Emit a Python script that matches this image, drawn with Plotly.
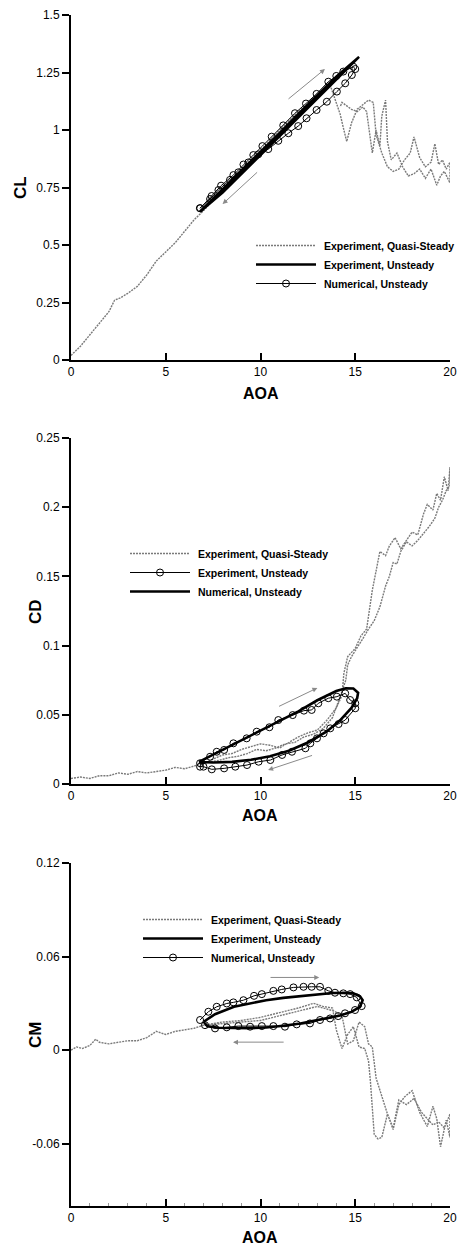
import plotly.graph_objects as go

# ---------------- lift coefficient ----------------
cl_qs_aoa = [0.0, 0.5, 1.0, 1.5, 2.0, 2.3, 2.6, 3.0, 3.5, 4.0, 4.5, 5.0, 5.5, 6.0, 6.5, 7.0,
             8.0, 9.0, 10.0, 11.0, 12.0, 13.0, 13.7, 14.0, 14.2, 14.4, 14.55, 14.8, 15.1,
             15.4, 15.7, 15.95, 16.1, 16.4, 16.7, 17.0, 17.3, 17.6, 17.9, 18.1, 18.4, 18.7,
             19.0, 19.2, 19.4, 19.6, 19.8, 20.0,
             20.0, 19.7, 19.5, 19.3, 19.0, 18.7, 18.4, 18.1, 17.8, 17.5, 17.2, 16.9, 16.7,
             16.6, 16.4, 16.3, 16.1, 15.9, 15.6, 15.4, 15.1, 14.8, 14.5, 14.3, 14.2]
cl_qs = [0.02, 0.06, 0.11, 0.16, 0.21, 0.26, 0.27, 0.29, 0.32, 0.37, 0.43, 0.47, 0.51, 0.56, 0.61, 0.65,
         0.74, 0.83, 0.91, 1.00, 1.08, 1.15, 1.19, 1.12, 1.07, 1.00, 0.95, 1.03, 1.09,
         1.11, 1.13, 1.12, 0.98, 0.90, 0.84, 0.82, 0.83, 0.87, 0.90, 0.97, 0.88, 0.84,
         0.86, 0.94, 0.85, 0.87, 0.83, 0.86,
         0.77, 0.82, 0.80, 0.76, 0.83, 0.79, 0.83, 0.81, 0.80, 0.84, 0.90, 0.87, 0.95,
         1.13, 1.06, 0.93, 1.00, 0.90, 1.08, 1.10, 1.08, 1.09, 1.11, 1.12, 1.10]

cl_exp_aoa = [6.8, 8.0, 9.0, 10.0, 11.0, 12.0, 13.0, 14.0, 15.2,
              14.0, 13.0, 12.0, 11.0, 10.0, 9.0, 8.0, 6.8]
cl_exp = [0.645, 0.742, 0.825, 0.905, 0.986, 1.07, 1.152, 1.232, 1.318,
          1.218, 1.137, 1.055, 0.973, 0.89, 0.81, 0.728, 0.645]

cl_num_aoa = [6.82, 7.42, 7.92, 8.57, 9.10, 9.62, 10.10, 10.59, 11.20, 11.82, 12.40, 12.96,
              13.58, 14.00, 14.37, 14.90, 15.00,
              14.82, 14.47, 14.03, 13.50, 12.96, 12.43, 11.99, 11.47, 10.94, 10.41, 9.88,
              9.36, 8.83, 8.39, 7.78, 7.34, 6.80]
cl_num = [0.660, 0.713, 0.758, 0.804, 0.850, 0.891, 0.930, 0.971, 1.020, 1.073, 1.115, 1.157,
          1.210, 1.235, 1.254, 1.275, 1.265,
          1.239, 1.203, 1.167, 1.123, 1.087, 1.051, 1.017, 0.986, 0.953, 0.917, 0.894,
          0.859, 0.816, 0.783, 0.739, 0.700, 0.660]

# ---------------- drag coefficient ----------------
cd_qs_aoa = [0.0, 0.5, 1.0, 1.5, 2.0, 2.5, 3.0, 3.5, 4.0, 4.5, 5.0, 5.5, 6.0, 6.5, 7.0,
             7.5, 8.0, 8.5, 9.0, 9.5, 10.0, 10.5, 11.0, 11.5, 12.0, 12.5, 13.0, 13.5, 14.0,
             14.3, 14.4, 14.6, 15.0, 15.3, 15.6, 15.9, 16.1, 16.3, 16.6, 16.8, 17.1, 17.4,
             17.7, 18.0, 18.3, 18.6, 18.8, 19.1, 19.3, 19.5, 19.7, 19.9, 20.0,
             20.0, 19.8, 19.6, 19.4, 19.2, 18.9, 18.6, 18.3, 18.0, 17.7, 17.4, 17.2, 17.0,
             16.8, 16.6, 16.3, 16.0, 15.7, 15.4, 15.1, 14.8, 14.6, 14.5, 14.2, 13.8,
             13.3, 12.8, 12.3, 11.8, 11.3, 10.8, 10.3, 9.8, 9.3, 8.8, 8.3, 7.8, 7.3, 6.8]
cd_qs = [0.004, 0.005, 0.004, 0.006, 0.006, 0.008, 0.007, 0.009, 0.008, 0.009, 0.010, 0.012, 0.011, 0.013, 0.015,
         0.018, 0.021, 0.022, 0.025, 0.027, 0.029, 0.028, 0.026, 0.030, 0.034, 0.037, 0.039, 0.046, 0.055,
         0.064, 0.080, 0.092, 0.098, 0.107, 0.112, 0.140, 0.155, 0.168, 0.165, 0.172, 0.178, 0.170,
         0.176, 0.182, 0.180, 0.195, 0.202, 0.198, 0.210, 0.205, 0.222, 0.212, 0.229,
         0.215, 0.212, 0.205, 0.200, 0.192, 0.186, 0.181, 0.176, 0.172, 0.175, 0.168, 0.159, 0.160,
         0.150, 0.143, 0.128, 0.118, 0.112, 0.105, 0.098, 0.092, 0.086, 0.075, 0.063, 0.048,
         0.040, 0.036, 0.034, 0.030, 0.029, 0.026, 0.024, 0.025, 0.022, 0.020, 0.019, 0.017, 0.016, 0.014]

cd_exp_aoa = [6.81, 7.34, 7.69, 8.08, 8.57, 9.27, 9.80, 10.47, 10.94, 11.70, 12.29, 12.70,
              13.05, 13.58, 14.03, 14.47, 14.73, 15.00, 15.00,
              14.47, 14.12, 13.68, 13.33, 12.98, 12.63, 12.37, 11.66, 11.14, 10.52, 9.90,
              9.29, 8.67, 8.08, 7.43, 6.99, 6.81]
cd_exp = [0.0150, 0.0197, 0.0233, 0.0246, 0.0294, 0.0330, 0.0378, 0.0410, 0.0462, 0.0498, 0.0530, 0.0535,
          0.0583, 0.0620, 0.0631, 0.0655, 0.0607, 0.0583, 0.0547,
          0.0462, 0.0433, 0.0402, 0.0366, 0.0330, 0.0294, 0.0258, 0.0233, 0.0210, 0.0173, 0.0161,
          0.0137, 0.0125, 0.0113, 0.0106, 0.0125, 0.0125]

cd_num_aoa = [6.75, 7.5, 8.5, 9.5, 10.5, 11.5, 12.5, 13.5, 14.2, 14.8, 15.1, 15.15,
              14.9, 14.5, 14.0, 13.0, 12.0, 11.0, 10.0, 9.0, 8.0, 7.2, 6.75]
cd_num = [0.0160, 0.0155, 0.0160, 0.0175, 0.0200, 0.0240, 0.0300, 0.0380, 0.0460, 0.0550, 0.0620, 0.0660,
          0.0690, 0.0692, 0.0672, 0.0605, 0.0525, 0.0455, 0.0390, 0.0320, 0.0250, 0.0190, 0.0160]

# ---------------- pitching moment coefficient ----------------
cm_qs_aoa = [0.0, 0.3, 0.6, 1.0, 1.3, 1.5, 2.0, 2.5, 3.0, 3.5, 4.0, 4.5, 5.0, 5.5, 6.0, 6.5, 7.0,
             8.0, 9.0, 10.0, 11.0, 12.0, 12.8, 13.3, 13.8, 14.0, 14.3, 14.6, 14.9, 15.2, 15.5,
             15.7, 15.8, 16.0, 16.2, 16.4, 16.7, 17.0, 17.3, 17.6, 18.0, 18.4, 18.8, 19.1,
             19.3, 19.5, 19.8, 20.0,
             20.0, 19.7, 19.4, 19.1, 18.8, 18.5, 18.1, 17.7, 17.3, 17.0, 16.7, 16.4, 16.1,
             15.9, 15.7, 15.5, 15.2, 14.9, 14.6, 14.3, 13.9, 13.0, 12.0, 11.0, 10.0, 9.0, 8.0, 7.0]
cm_qs = [0.000, 0.002, 0.001, 0.003, 0.007, 0.005, 0.004, 0.005, 0.006, 0.006, 0.008, 0.012, 0.010, 0.012, 0.013, 0.014, 0.016,
         0.018, 0.019, 0.021, 0.024, 0.027, 0.030, 0.028, 0.027, 0.013, 0.001, 0.010, 0.015, 0.002, 0.001,
         -0.007, -0.020, -0.054, -0.057, -0.056, -0.041, -0.051, -0.035, -0.030, -0.026, -0.040, -0.049, -0.036,
         -0.044, -0.062, -0.045, -0.056,
         -0.041, -0.050, -0.046, -0.048, -0.044, -0.040, -0.031, -0.035, -0.032, -0.050, -0.041, -0.030, -0.018,
         0.002, 0.004, 0.015, 0.018, 0.006, 0.004, 0.022, 0.025, 0.028, 0.025, 0.022, 0.019, 0.018, 0.017, 0.016]

cm_exp_aoa = [7.0, 7.6, 8.6, 9.6, 10.3, 11.2, 12.1, 13.0, 13.8, 14.5, 14.9, 15.25, 15.39, 15.25,
              14.8, 14.2, 13.8, 13.0, 12.1, 11.2, 10.3, 9.4, 8.6, 7.8, 7.2, 7.0]
cm_exp = [0.0182, 0.0230, 0.0278, 0.0305, 0.0320, 0.0335, 0.0347, 0.0358, 0.0366, 0.0368, 0.0364, 0.0345, 0.0320, 0.0278,
          0.0245, 0.0222, 0.0212, 0.0192, 0.0171, 0.0156, 0.0145, 0.0141, 0.0140, 0.0143, 0.0152, 0.0182]

cm_num_aoa = [6.81, 7.25, 7.69, 8.22, 8.57, 9.10, 9.66, 10.07, 10.68, 11.12, 11.74, 12.27, 12.70,
              13.14, 13.58, 13.93, 14.37, 14.73, 15.08, 15.34,
              14.99, 14.46, 14.10, 13.67, 13.14, 12.61, 11.91, 11.29, 10.68, 10.07, 9.45, 8.83,
              8.22, 7.60, 7.07]
cm_num = [0.0193, 0.0246, 0.0278, 0.0299, 0.0306, 0.0320, 0.0348, 0.0359, 0.0380, 0.0389, 0.0402, 0.0406, 0.0406,
          0.0406, 0.0380, 0.0368, 0.0364, 0.0359, 0.0338, 0.0282,
          0.0257, 0.0236, 0.0218, 0.0203, 0.0193, 0.0171, 0.0165, 0.0150, 0.0154, 0.0154, 0.0150, 0.0154,
          0.0146, 0.0139, 0.0160]

# ---------------- styles ----------------
QS_LINE = dict(color="#7a7a7a", width=1.4, dash="2px,1px")
THICK_LINE = dict(color="black", width=2.6)
THIN_LINE = dict(color="black", width=1)
CIRCLE = dict(symbol="circle-open", size=7, color="black", line=dict(width=1, color="black"))
FONT = "Liberation Sans, Arial, sans-serif"
PAD = "\u00a0"  # small gap between legend sample and its label

fig = go.Figure()

# CL panel: quasi-steady, experiment (thick), numerical (circles)
fig.add_trace(go.Scatter(x=cl_qs_aoa, y=cl_qs, mode="lines", line=QS_LINE,
                         name=PAD + "Experiment, Quasi-Steady", xaxis="x", yaxis="y", legend="legend"))
fig.add_trace(go.Scatter(x=cl_exp_aoa, y=cl_exp, mode="lines", line=THICK_LINE,
                         name=PAD + "Experiment, Unsteady", xaxis="x", yaxis="y", legend="legend"))
fig.add_trace(go.Scatter(x=cl_num_aoa, y=cl_num, mode="lines+markers", line=THIN_LINE, marker=CIRCLE,
                         name=PAD + "Numerical, Unsteady", xaxis="x", yaxis="y", legend="legend"))

# CD panel: quasi-steady, experiment (circles), numerical (thick)
fig.add_trace(go.Scatter(x=cd_qs_aoa, y=cd_qs, mode="lines", line=QS_LINE,
                         name=PAD + "Experiment, Quasi-Steady", xaxis="x2", yaxis="y2", legend="legend2"))
fig.add_trace(go.Scatter(x=cd_exp_aoa, y=cd_exp, mode="lines+markers", line=THIN_LINE, marker=CIRCLE,
                         name=PAD + "Experiment, Unsteady", xaxis="x2", yaxis="y2", legend="legend2"))
fig.add_trace(go.Scatter(x=cd_num_aoa, y=cd_num, mode="lines", line=THICK_LINE,
                         name=PAD + "Numerical, Unsteady", xaxis="x2", yaxis="y2", legend="legend2"))

# CM panel: quasi-steady, experiment (thick), numerical (circles)
fig.add_trace(go.Scatter(x=cm_qs_aoa, y=cm_qs, mode="lines", line=QS_LINE,
                         name=PAD + "Experiment, Quasi-Steady", xaxis="x3", yaxis="y3", legend="legend3"))
fig.add_trace(go.Scatter(x=cm_exp_aoa, y=cm_exp, mode="lines", line=THICK_LINE,
                         name=PAD + "Experiment, Unsteady", xaxis="x3", yaxis="y3", legend="legend3"))
fig.add_trace(go.Scatter(x=cm_num_aoa, y=cm_num, mode="lines+markers", line=THIN_LINE, marker=CIRCLE,
                         name=PAD + "Numerical, Unsteady", xaxis="x3", yaxis="y3", legend="legend3"))

W, H = 458, 1251
x_dom = [71 / W, 450 / W]


def ydom(top_px, bottom_px):
    return [1 - bottom_px / H, 1 - top_px / H]


def xaxis_style(anchor, minor=False):
    d = dict(domain=x_dom, anchor=anchor, range=[0, 20], tickvals=[0, 5, 10, 15, 20],
             showline=True, linewidth=2, linecolor="black", showgrid=False, zeroline=False,
             ticks="inside", ticklen=7, tickwidth=1.5, tickcolor="black",
             tickfont=dict(family=FONT, size=12, color="black"))
    if minor:
        d["minor"] = dict(dtick=1, ticks="inside", ticklen=3, tickcolor="#999", tickwidth=1)
    return d


def yaxis_style(anchor, dom, rng, vals, texts):
    return dict(domain=dom, anchor=anchor, range=rng, tickvals=vals, ticktext=texts,
                showline=True, linewidth=2, linecolor="black", showgrid=False, zeroline=False,
                ticks="outside", ticklen=7, tickwidth=2, tickcolor="black",
                tickfont=dict(family=FONT, size=12, color="black"))


def legend_style(x_px, top_px):
    return dict(x=x_px / W, y=1 - top_px / H, xanchor="left", yanchor="top",
                bgcolor="rgba(0,0,0,0)", itemwidth=60, tracegroupgap=0,
                font=dict(family=FONT, size=10.5, color="black", weight="bold"))


fig.update_layout(
    width=W, height=H, margin=dict(l=0, r=0, t=0, b=0, autoexpand=False),
    paper_bgcolor="white", plot_bgcolor="white", hovermode=False,
    xaxis=xaxis_style("y"),
    yaxis=yaxis_style("x", ydom(15, 360), [0, 1.5],
                      [0, 0.25, 0.5, 0.75, 1, 1.25, 1.5],
                      ["0", "0.25", "0.5", "0.75", "1", "1.25", "1.5"]),
    xaxis2=xaxis_style("y2"),
    yaxis2=yaxis_style("x2", ydom(438, 784), [0, 0.25],
                       [0, 0.05, 0.1, 0.15, 0.2, 0.25],
                       ["0", "0.05", "0.1", "0.15", "0.2", "0.25"]),
    xaxis3=xaxis_style("y3", minor=True),
    yaxis3=yaxis_style("x3", ydom(863, 1206), [-0.1, 0.12],
                       [-0.06, 0, 0.06, 0.12],
                       ["-0.06", "0", "0.06", "0.12"]),
    legend=legend_style(251, 231),
    legend2=legend_style(125, 539),
    legend3=legend_style(138, 905),
    showlegend=True,
)

# axis titles
titles = [("AOA", 261, 393, 0), ("AOA", 260, 815, 0), ("AOA", 260, 1237, 0),
          ("CL", 20, 188, -90), ("CD", 35, 612, -90), ("CM", 35, 1035, -90)]
for text, px, py, ang in titles:
    fig.add_annotation(text=f"<b>{text}</b>", x=px / W, y=1 - py / H, xref="paper", yref="paper",
                       showarrow=False, textangle=ang, xanchor="center", yanchor="middle",
                       font=dict(family=FONT, size=17 if ang else 16, color="black"))

# direction arrows (tail -> head) in data coordinates of each panel
arrows = [("x", "y", 11.4, 1.13, 13.4, 1.265), ("x", "y", 9.9, 0.822, 8.0, 0.678),
          ("x2", "y2", 10.9, 0.0556, 13.0, 0.0694), ("x2", "y2", 12.8, 0.021, 10.4, 0.0101),
          ("x3", "y3", 10.45, 0.0466, 13.1, 0.0466), ("x3", "y3", 11.3, 0.0051, 8.55, 0.0051)]
for xr, yr, x0, y0, x1, y1 in arrows:
    fig.add_annotation(x=x1, y=y1, ax=x0, ay=y0, xref=xr, yref=yr, axref=xr, ayref=yr,
                       text="", showarrow=True, arrowhead=2, arrowsize=1, arrowwidth=1,
                       arrowcolor="#8a8a8a")

fig.write_html("out.html")
